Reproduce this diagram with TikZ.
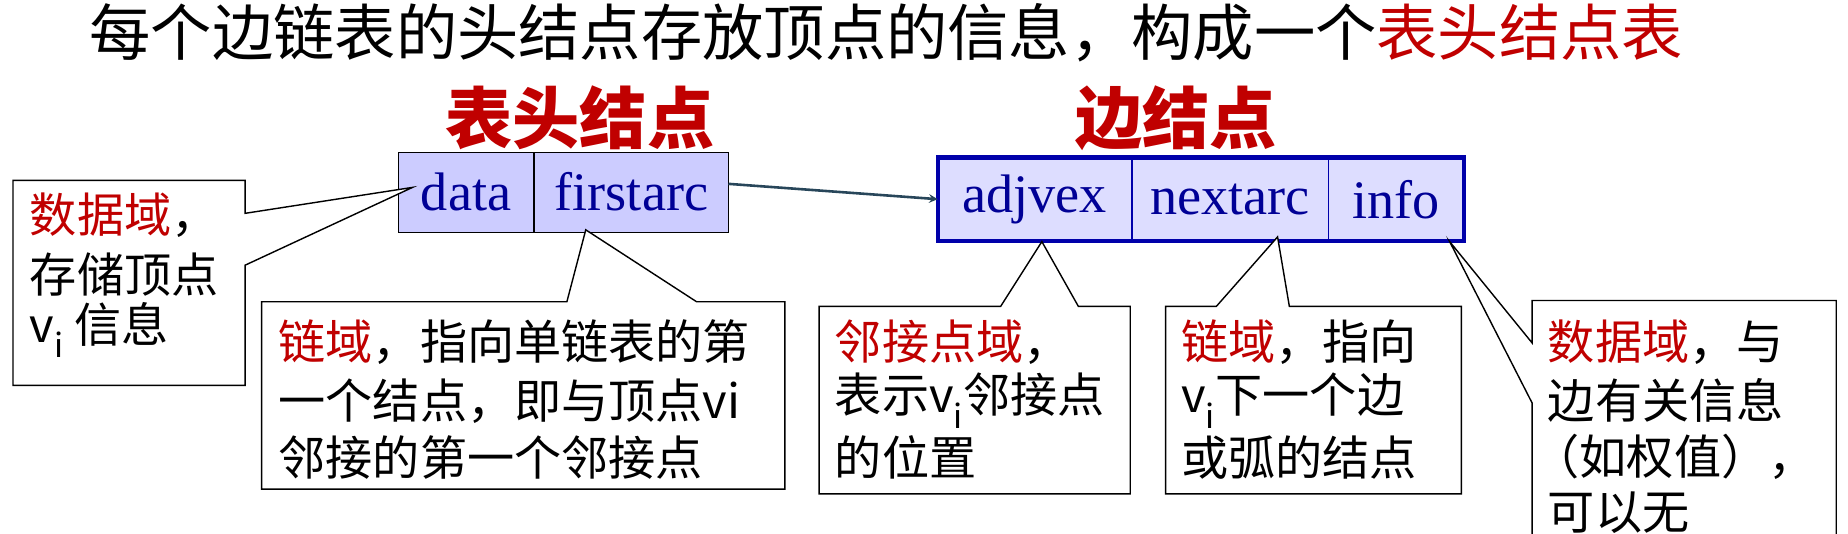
\documentclass[tikz,border=0pt]{standalone}
\usepackage{fontspec}
\usetikzlibrary{positioning}
\setmainfont{Liberation Serif}
\newfontfamily\cjk{Noto Sans CJK SC}
\definecolor{redtxt}{RGB}{192,0,0}
\definecolor{bluetxt}{RGB}{0,0,150}
\definecolor{headfill}{RGB}{204,204,255}
\definecolor{edgefill}{RGB}{221,221,255}
\definecolor{edgeline}{RGB}{0,0,170}
\definecolor{arrowcol}{RGB}{40,70,90}
\newcommand{\vsub}{v\textsubscript{i}}
\tikzset{every picture/.style={line width=0.75pt}}
\tikzset{
  field/.style={draw, inner sep=0pt, minimum height=68, text=bluetxt, font=\fontsize{46}{50}\selectfont},
  callout/.style={draw, fill=white, line width=1.2pt},
  line/.style={anchor=west, inner sep=0pt, font=\cjk\fontsize{40}{44}\selectfont},
  heading/.style={inner sep=0pt, text=redtxt, font=\cjk\bfseries\fontsize{57}{60}\selectfont},
}
\begin{document}
\begin{tikzpicture}[x=1pt,y=1pt,yscale=-1,xscale=1]
		\useasboundingbox (0,0) rectangle (1568,453);

		% Title
		\node (title) [inner sep=0pt, font=\cjk\fontsize{52}{56}\selectfont] at (752,28) {每个边链表的头结点存放顶点的信息，构成一个\textcolor{redtxt}{表头结点表}};
		\node (headtitle) [heading] at (492,100) {表头结点};
		\node (edgetitle) [heading] at (998,100) {边结点};

		% head node fields
		\node (data) [field, fill=headfill, minimum width=115] at (395.5,163) {data};
		\node (firstarc) [field, fill=headfill, minimum width=164, right=0pt of data] {firstarc};

		% edge node fields
		\node (adjvex) [field, fill=edgefill, draw=edgeline, minimum width=164, minimum height=70] at (878,169) {adjvex};
		\node (nextarc) [field, fill=edgefill, draw=edgeline, minimum width=166, minimum height=70, right=0pt of adjvex] {nextarc};
		\node (info) [field, fill=edgefill, draw=edgeline, minimum width=114, minimum height=70, right=0pt of nextarc] {info};
		\draw [edgeline, line width=3.5pt] (adjvex.north west) rectangle (info.south east);

		\draw [arrowcol, line width=2.2pt, -stealth] ([yshift=-7]firstarc.east) -- (adjvex.west);

		% Callout: data
		\draw [callout] (208,181) -- (350,159) -- (208,225) -- (208,327) -- (11,327) -- (11,153) -- (208,153) -- cycle;
		\node (c1a) [line] at (25,183) {\textcolor{redtxt}{数据域}，};
		\node (c1b) [line] at (25,233) {存储顶点};
		\node (c1c) [line] at (25,280) {\vsub\ 信息};

		% Callout: firstarc
		\draw [callout] (481,256) -- (497,195) -- (591,256) -- (666,256) -- (666,415) -- (222,415) -- (222,256) -- cycle;
		\node (c2a) [line] at (236,290) {\textcolor{redtxt}{链域}，指向单链表的第};
		\node (c2b) [line] at (236,340) {一个结点，即与顶点vi};
		\node (c2c) [line] at (236,388) {邻接的第一个邻接点};

		% Callout: adjvex
		\draw [callout] (849,260) -- (884,205) -- (915,260) -- (959,260) -- (959,419) -- (695,419) -- (695,260) -- cycle;
		\node (c3a) [line] at (708,290) {\textcolor{redtxt}{邻接点域}，};
		\node (c3b) [line] at (708,340) {表示\vsub 邻接点};
		\node (c3c) [line] at (708,388) {的位置};

		% Callout: nextarc
		\draw [callout] (1032,260) -- (1084,201) -- (1094,260) -- (1240,260) -- (1240,419) -- (989,419) -- (989,260) -- cycle;
		\node (c4a) [line] at (1002,290) {\textcolor{redtxt}{链域}，指向};
		\node (c4b) [line] at (1002,340) {\vsub 下一个边};
		\node (c4c) [line] at (1002,388) {或弧的结点};

		% Callout: info
		\draw [callout] (1300,291) -- (1230,205) -- (1300,342) -- (1300,460) -- (1558,460) -- (1558,255) -- (1300,255) -- cycle;
		\node (c5a) [line] at (1313,290) {\textcolor{redtxt}{数据域}，与};
		\node (c5b) [line] at (1313,340) {边有关信息};
		\node (c5c) [line] at (1300,388) {（如权值），};
		\node (c5d) [line] at (1313,435) {可以无};
\end{tikzpicture}
\end{document}
